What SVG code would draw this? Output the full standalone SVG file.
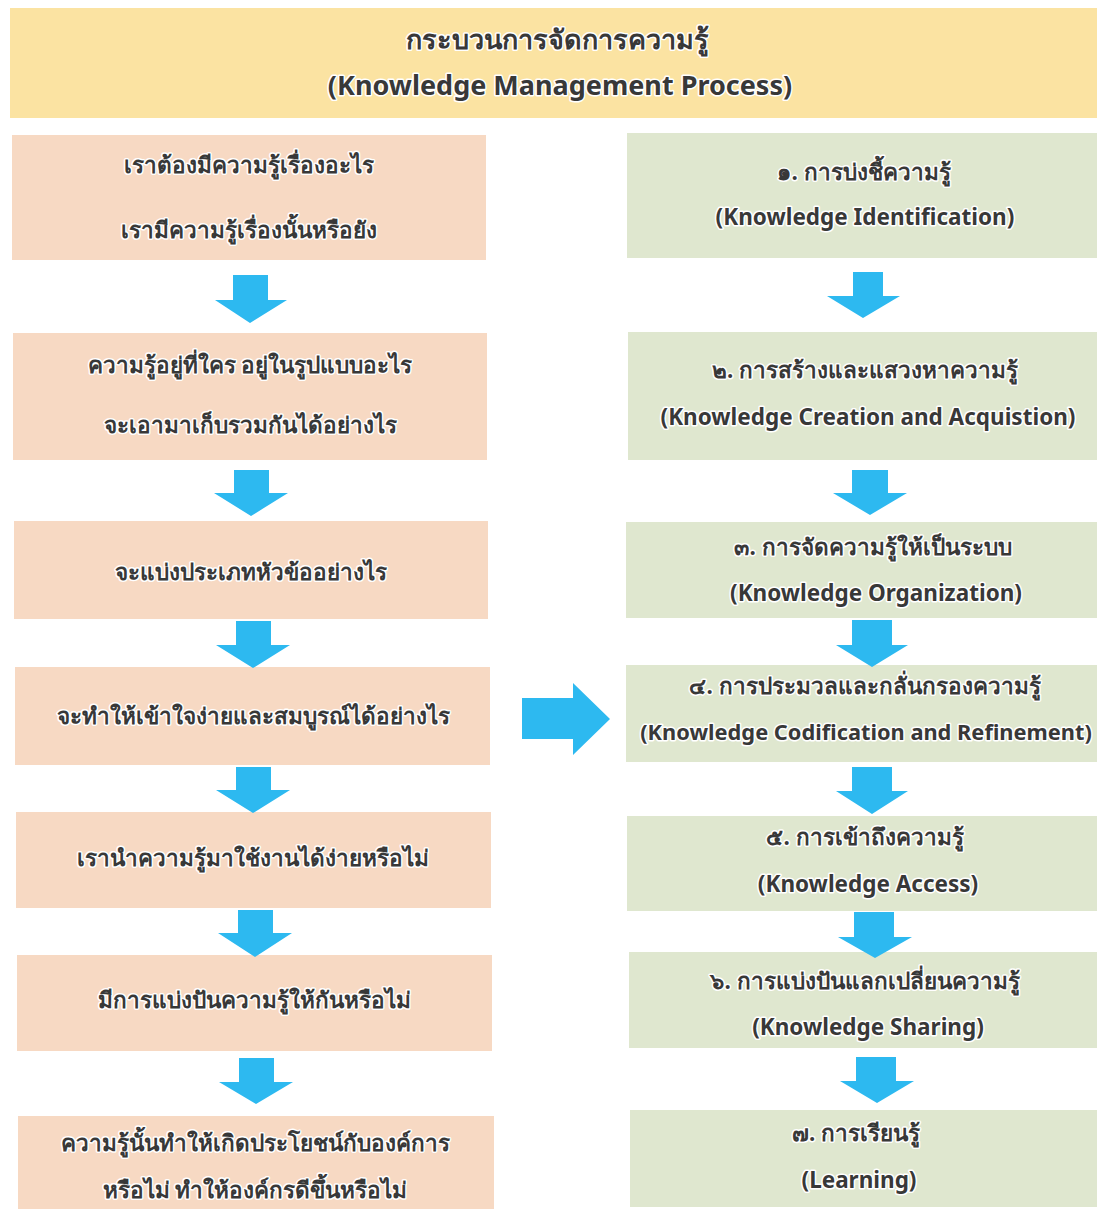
<svg xmlns="http://www.w3.org/2000/svg" width="1097" height="1209" viewBox="0 0 1097 1209">
<style>
.bg{fill:#ffffff}
.title{fill:#fbe3a2}
.left{fill:#f7d9c3}
.right{fill:#dfe7cf}
.t{font-family:"Noto Sans","DejaVu Sans",sans-serif;font-weight:bold;fill:#383838;text-anchor:middle;stroke:#ffffff;stroke-width:3;stroke-linejoin:round;paint-order:stroke}
.ts{font-size:27px}
.tb{font-size:22.5px}
.tn{font-size:21.8px}
.arrow{fill:#2db9f0}
</style>
<rect class="bg" x="0" y="0" width="1097" height="1209"/>
<g id="title">
<rect class="title" x="10" y="8" width="1087" height="110"/>
<text class="t ts" x="557" y="49">กระบวนการจัดการความรู้</text>
<text class="t ts" x="560" y="95">(Knowledge Management Process)</text>
</g>
<g id="L1"><rect class="left" x="12" y="135" width="474" height="125"/>
<text class="t tb" x="249" y="173">เราต้องมีความรู้เรื่องอะไร</text>
<text class="t tb" x="249" y="238">เรามีความรู้เรื่องนั้นหรือยัง</text></g>
<g id="L2"><rect class="left" x="13" y="333" width="474" height="127"/>
<text class="t tb" x="250" y="373">ความรู้อยู่ที่ใคร อยู่ในรูปแบบอะไร</text>
<text class="t tb" x="250" y="433">จะเอามาเก็บรวมกันได้อย่างไร</text></g>
<g id="L3"><rect class="left" x="14" y="521" width="474" height="98"/>
<text class="t tb" x="251" y="580">จะแบ่งประเภทหัวข้ออย่างไร</text></g>
<g id="L4"><rect class="left" x="15" y="667" width="475" height="98"/>
<text class="t tb" x="253" y="724">จะทำให้เข้าใจง่ายและสมบูรณ์ได้อย่างไร</text></g>
<g id="L5"><rect class="left" x="16" y="812" width="475" height="96"/>
<text class="t tb" x="253" y="866">เรานำความรู้มาใช้งานได้ง่ายหรือไม่</text></g>
<g id="L6"><rect class="left" x="17" y="955" width="475" height="96"/>
<text class="t tb" x="254" y="1008">มีการแบ่งปันความรู้ให้กันหรือไม่</text></g>
<g id="L7"><rect class="left" x="18" y="1116" width="476" height="93"/>
<text class="t tb" x="255" y="1151">ความรู้นั้นทำให้เกิดประโยชน์กับองค์การ</text>
<text class="t tb" x="255" y="1198">หรือไม่ ทำให้องค์กรดีขึ้นหรือไม่</text></g>
<g id="R1"><rect class="right" x="627" y="133" width="470" height="125"/>
<text class="t tb" x="864" y="180">๑. การบ่งชี้ความรู้</text>
<text class="t tb" x="865" y="225">(Knowledge Identification)</text></g>
<g id="R2"><rect class="right" x="628" y="332" width="469" height="128"/>
<text class="t tb" x="865" y="378">๒. การสร้างและแสวงหาความรู้</text>
<text class="t tb" x="868" y="425">(Knowledge Creation and Acquistion)</text></g>
<g id="R3"><rect class="right" x="626" y="522" width="471" height="96"/>
<text class="t tb" x="873" y="555">๓. การจัดความรู้ให้เป็นระบบ</text>
<text class="t tb" x="876" y="601">(Knowledge Organization)</text></g>
<g id="R4"><rect class="right" x="626" y="665" width="471" height="97"/>
<text class="t tb" x="865" y="694">๔. การประมวลและกลั่นกรองความรู้</text>
<text class="t tn" x="866" y="740">(Knowledge Codification and Refinement)</text></g>
<g id="R5"><rect class="right" x="627" y="816" width="470" height="95"/>
<text class="t tb" x="865" y="845">๕. การเข้าถึงความรู้</text>
<text class="t tb" x="868" y="892">(Knowledge Access)</text></g>
<g id="R6"><rect class="right" x="629" y="952" width="468" height="96"/>
<text class="t tb" x="865" y="989">๖. การแบ่งปันแลกเปลี่ยนความรู้</text>
<text class="t tb" x="868" y="1035">(Knowledge Sharing)</text></g>
<g id="R7"><rect class="right" x="630" y="1110" width="467" height="97"/>
<text class="t tb" x="856" y="1141">๗. การเรียนรู้</text>
<text class="t tb" x="859" y="1188">(Learning)</text></g>
<g id="connectors">
<polygon class="arrow" points="233,275 268,275 268,300 287,300 250,323 215,300 233,300"/>
<polygon class="arrow" points="234,470 269,470 269,493 288,493 251,516 214,493 234,493"/>
<polygon class="arrow" points="236,621 271,621 271,645 290,645 253,668 216,645 236,645"/>
<polygon class="arrow" points="236,767 271,767 271,790 290,790 253,813 216,790 236,790"/>
<polygon class="arrow" points="238,910 273,910 273,933 292,933 255,957 218,933 238,933"/>
<polygon class="arrow" points="239,1058 274,1058 274,1082 293,1082 256,1104 219,1082 239,1082"/>
<polygon class="arrow" points="853,272 883,272 883,296 900,296 863,318 827,296 853,296"/>
<polygon class="arrow" points="852,470 888,470 888,493 907,493 870,515 833,493 852,493"/>
<polygon class="arrow" points="852,620 892,620 892,645 908,645 872,667 836,645 852,645"/>
<polygon class="arrow" points="852,767 892,767 892,791 908,791 872,814 836,791 852,791"/>
<polygon class="arrow" points="854,912 894,912 894,937 912,937 875,958 838,937 854,937"/>
<polygon class="arrow" points="856,1057 896,1057 896,1081 914,1081 877,1103 840,1081 856,1081"/>
<polygon class="arrow" points="522,698 573,698 573,683 610,719 573,755 573,739 522,739"/>
</g>
</svg>
